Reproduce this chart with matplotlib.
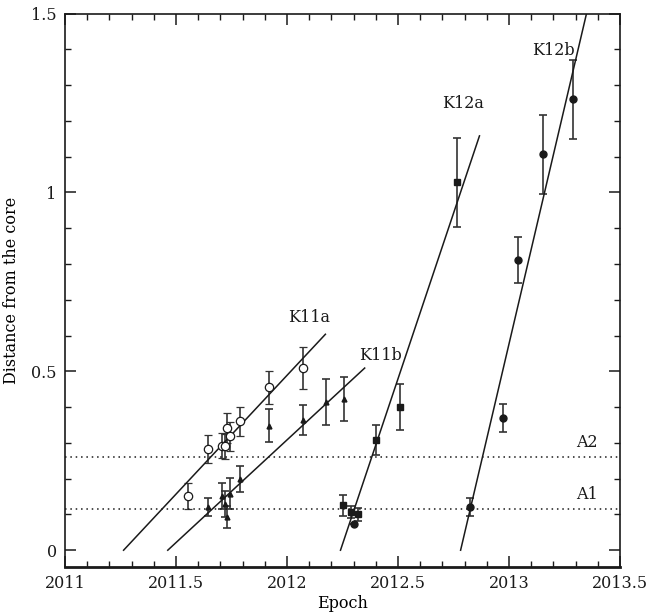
import matplotlib
matplotlib.use("Agg")
import matplotlib.pyplot as plt
import numpy as np
from matplotlib.ticker import MultipleLocator

# ---- data ----
k11a_t = [2011.552, 2011.643, 2011.708, 2011.720, 2011.731, 2011.744, 2011.790, 2011.921, 2012.073]
k11a_d = [0.151, 0.283, 0.292, 0.290, 0.341, 0.318, 0.360, 0.455, 0.510]
k11a_e = [0.037, 0.038, 0.035, 0.035, 0.042, 0.040, 0.040, 0.047, 0.059]

k11b_t = [2011.643, 2011.708, 2011.720, 2011.730, 2011.743, 2011.790, 2011.921, 2012.073, 2012.177, 2012.255]
k11b_d = [0.121, 0.151, 0.130, 0.093, 0.158, 0.200, 0.348, 0.363, 0.414, 0.423]
k11b_e = [0.026, 0.036, 0.036, 0.030, 0.043, 0.036, 0.046, 0.042, 0.065, 0.062]

k12a_t = [2012.251, 2012.289, 2012.320, 2012.402, 2012.507, 2012.768]
k12a_d = [0.125, 0.107, 0.100, 0.308, 0.400, 1.028]
k12a_e = [0.030, 0.017, 0.019, 0.041, 0.065, 0.125]

k12b_t = [2012.300, 2012.825, 2012.972, 2013.041, 2013.155, 2013.288]
k12b_d = [0.074, 0.120, 0.370, 0.811, 1.107, 1.260]
k12b_e = [0.0, 0.025, 0.039, 0.064, 0.110, 0.111]

# linear fits: epoch at zero separation, speed, last epoch drawn
fit_names = ["K11a", "K11b", "K12a", "K12b"]
fit_t0 = [2011.264, 2011.463, 2012.241, 2012.782]
fit_speed = [0.664, 0.574, 1.85, 2.645]
fit_tend = [2012.173, 2012.350, 2012.867, 2013.40]
label_t = [2012.10, 2012.42, 2012.795, 2013.20]
label_d = [0.65, 0.545, 1.248, 1.396]

ref_names = ["A1", "A2"]
ref_d = [0.116, 0.261]

plt.rcParams['font.family'] = ['DejaVu Serif']
fig = plt.figure(figsize=(6.51, 6.16), dpi=100)
ax = fig.add_axes([0.0998, 0.0795, 0.8526, 0.8985])

c = '#1a1a1a'
fs = 11.5
ekw = dict(ls='none', ecolor='#333333', elinewidth=1.2, capsize=3, capthick=1.2)
ax.errorbar(k11a_t, k11a_d, yerr=k11a_e, marker='o', ms=6, mfc='white', mec=c, mew=0.9, **ekw)
ax.errorbar(k11b_t, k11b_d, yerr=k11b_e, marker='^', ms=3.5, mfc=c, mec=c, **ekw)
ax.errorbar(k12a_t, k12a_d, yerr=k12a_e, marker='s', ms=4.5, mfc=c, mec=c, **ekw)
ax.errorbar(k12b_t, k12b_d, yerr=k12b_e, marker='o', ms=5, mfc=c, mec=c, **ekw)

for t0, v, te in zip(fit_t0, fit_speed, fit_tend):
    tt = np.array([t0, te])
    ax.plot(tt, v * (tt - t0), color=c, lw=1.1)

for n, t, d in zip(fit_names, label_t, label_d):
    ax.text(t, d, n, fontsize=fs, ha='center', va='center', color=c)

for n, d in zip(ref_names, ref_d):
    ax.axhline(d, color=c, lw=1.1, ls=(0, (1, 2.5)))
    ax.text(2013.35, d + 0.015, n, fontsize=fs, ha='center', va='bottom', color=c)

ax.set_xlim(2011, 2013.5)
ax.set_ylim(-0.047, 1.5)
ax.xaxis.set_minor_locator(MultipleLocator(0.1))
ax.yaxis.set_minor_locator(MultipleLocator(0.1))
ax.set_xticks([2011, 2011.5, 2012, 2012.5, 2013, 2013.5])
ax.set_xticklabels(["2011", "2011.5", "2012", "2012.5", "2013", "2013.5"])
ax.set_yticks([0, 0.5, 1, 1.5])
ax.set_yticklabels(["0", "0.5", "1", "1.5"])
ax.tick_params(which='both', direction='in', top=True, right=True, labelsize=fs, colors=c)
ax.tick_params(which='major', length=8, width=1.1, pad=6)
ax.tick_params(which='minor', length=4, width=1.0)
for s in ax.spines.values():
    s.set_linewidth(1.2)
    s.set_color(c)
ax.spines['bottom'].set_linewidth(2.0)

ax.set_xlabel("Epoch", fontsize=fs, labelpad=2)
ax.set_ylabel("Distance from the core", fontsize=fs, labelpad=8)

fig.savefig("out.png", dpi=100)
